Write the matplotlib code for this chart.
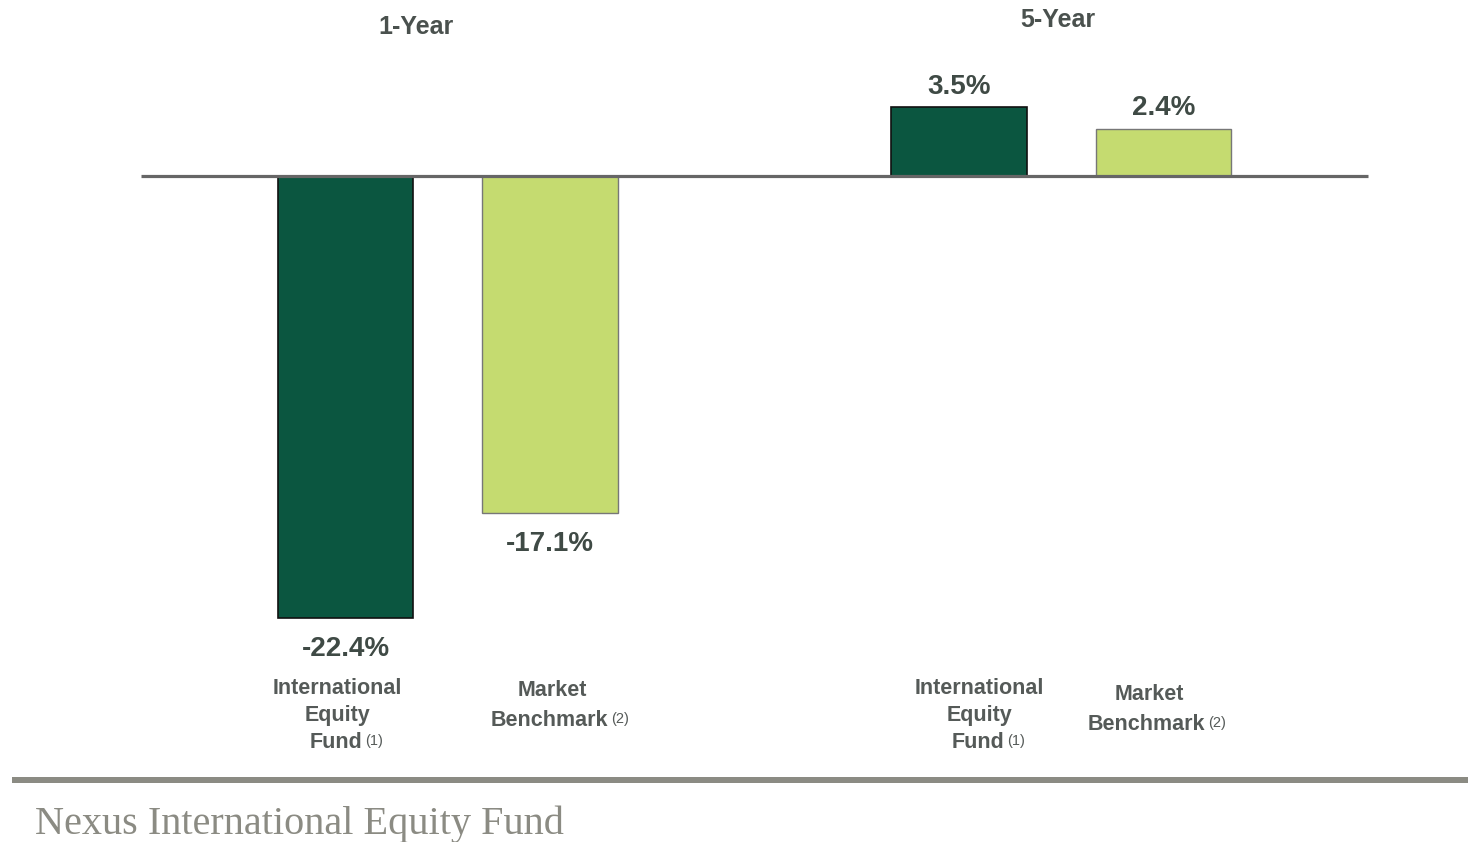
import matplotlib.pyplot as plt
from matplotlib.patches import Rectangle

# data
periods = ["1-Year", "5-Year"]
fund_returns = [-22.4, 3.5]
bench_returns = [-17.1, 2.4]
fund_label = ["International", "Equity", "Fund"]
bench_label = ["Market", "Benchmark"]

DARK = "#0b5640"
LIGHT = "#c5db70"
TXT = "#3f4a45"
CAT = "#555a58"
SANS = ["Liberation Sans", "DejaVu Sans"]

W, H = 1468, 842
fig = plt.figure(figsize=(W / 100, H / 100), dpi=100)
ax = fig.add_axes([0, 0, 1, 1])

# 204.5 px per x unit, 19.73 px per percent, zero at pixel row 176
ax.set_xlim(-345.5 / 204.5, (W - 345.5) / 204.5)
ax.set_ylim(-(H - 176) / 19.73, 176 / 19.73)
ax.axis("off")

fund_x = [0, 3]
bench_x = [1, 4]
width = 0.665

ax.bar(fund_x, fund_returns, width, color=DARK, edgecolor="#111111", linewidth=1.2, zorder=2)
ax.bar(bench_x, bench_returns, width, color=LIGHT, edgecolor="#777777", linewidth=1.0, zorder=2)
ax.plot([-0.998, 5.0], [0, 0], color="#666666", lw=2.3, zorder=3, solid_capstyle="butt")

for xs, vals in [(fund_x, fund_returns), (bench_x, bench_returns)]:
    for x, v in zip(xs, vals):
        off = 9.5 if v > 0 else -13
        ax.annotate(f"{v:.1f}%", (x, v), xytext=(0, off), textcoords="offset points",
                    ha="center", va="baseline" if v > 0 else "top",
                    fontsize=20, fontweight="bold", color=TXT, family=SANS)

def px(x, y):
    return x / W, 1 - y / H

# group titles
fig.text(*px(416, 27), periods[0], ha="center", va="center", fontsize=18,
         fontweight="bold", color="#4a514e", family=SANS)
fig.text(*px(1058, 20), periods[1], ha="center", va="center", fontsize=18,
         fontweight="bold", color="#4a514e", family=SANS)

# category labels
def cat_text(x, y, s, sup=None):
    t = fig.text(*px(x, y), s, ha="center", va="center", fontsize=15.5,
                 fontweight="bold", color=CAT, family=SANS)
    if sup:
        fig.canvas.draw()
        bb = t.get_window_extent()
        fig.text((bb.x1 + 3) / W, (bb.y1 - 2) / H, sup, ha="left", va="top",
                 fontsize=10.5, color=CAT, family=SANS)

for cx in (337, 979):
    cat_text(cx, 689, fund_label[0])
    cat_text(cx, 716, fund_label[1])
    cat_text(cx - 1, 742, fund_label[2], "(1)")
for cx, y0 in ((552, 691), (1149, 695)):
    cat_text(cx, y0, bench_label[0])
    cat_text(cx - 3, y0 + 29, bench_label[1], "(2)")

# footer
fig.add_artist(Rectangle((12 / W, 1 - 783 / H), 1, 6 / H, transform=fig.transFigure,
                         color="#8b8b83", lw=0))
fig.text(*px(35, 824), "Nexus International Equity Fund", ha="left", va="center",
         fontsize=29, color="#8b8b83", family="Liberation Serif")

fig.savefig("out.png", dpi=100)
